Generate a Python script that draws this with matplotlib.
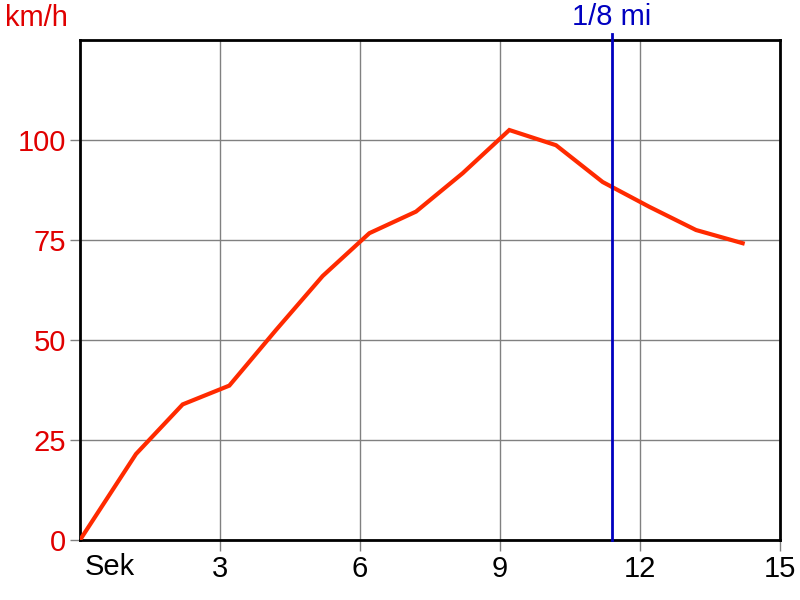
import matplotlib
matplotlib.use("Agg")
import matplotlib.pyplot as plt

seconds = [0.0, 1.2, 2.2, 3.2, 4.2, 5.2, 6.2, 7.2, 8.2, 9.2, 10.2, 11.2, 12.2, 13.2, 14.2]
speed_kmh = [0.0, 21.5, 33.9, 38.6, 52.5, 66.0, 76.7, 82.1, 91.7, 102.5, 98.7, 89.5, 83.3, 77.5, 74.2]
eighth_mile_time = 11.4
x_ticks = [3, 6, 9, 12, 15]
y_ticks = [0, 25, 50, 75, 100]

plt.rcParams['font.family'] = ['Liberation Sans', 'DejaVu Sans']

fig = plt.figure(figsize=(8, 6), dpi=100)
ax = fig.add_axes([0.1, 0.1, 0.875, 0.8333])
ax.set_xlim(0, 15)
ax.set_ylim(0, 125)

ax.set_xticks(x_ticks)
ax.set_yticks(y_ticks)
ax.grid(True, color='#808080', linewidth=1)
ax.set_axisbelow(True)
ax.tick_params(axis='x', colors='#808080', labelcolor='black', labelsize=21, length=8, width=1, pad=3)
ax.tick_params(axis='y', colors='#808080', labelcolor='#e00000', labelsize=21, length=7, width=1, pad=3)
for s in ax.spines.values():
    s.set_linewidth(2)
    s.set_color('black')

ax.plot(seconds, speed_kmh, color='#ff2a00', linewidth=3, solid_joinstyle='miter', zorder=3)
ax.plot([eighth_mile_time, eighth_mile_time], [0, 126.5], color='#0000c0', linewidth=2, clip_on=False, zorder=4)
ax.text(eighth_mile_time, 127.3, '1/8 mi', color='#0000c0', fontsize=21, ha='center', va='bottom')

ax.text(0.1, -3.2, 'Sek', transform=ax.transData, ha='left', va='top', fontsize=21, color='black')
ax.set_xticklabels([str(t) for t in x_ticks])
fig.text(5/800, 1 - 18/600, 'km/h', color='#e00000', fontsize=21, ha='left', va='center')

fig.savefig('out.png', dpi=100)
